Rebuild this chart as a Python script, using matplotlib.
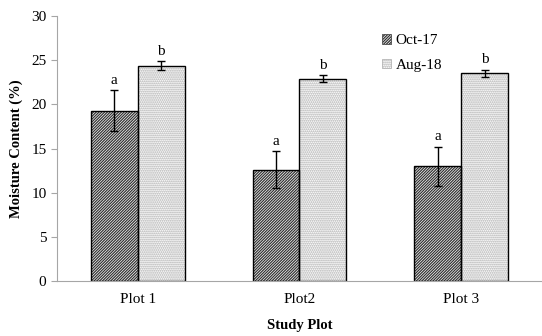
import matplotlib.pyplot as plt
import numpy as np
from matplotlib.patches import Patch

plt.rcParams['font.family'] = ['Liberation Serif', 'DejaVu Serif']
plt.rcParams['hatch.linewidth'] = 0.9

# data
plots = ["Plot 1", "Plot2", "Plot 3"]
oct17 = [19.3, 12.6, 13.0]
oct17_err = [2.3, 2.1, 2.2]
aug18 = [24.4, 22.9, 23.5]
aug18_err = [0.5, 0.4, 0.4]
oct_letters = ["a", "a", "a"]
aug_letters = ["b", "b", "b"]

x = np.arange(len(plots))
w = 0.29
axis_grey = "#a6a6a6"
dark_hatch = "/" * 12
dot_hatch = "." * 8

fig = plt.figure(figsize=(5.42, 3.36), dpi=100)
ax = fig.add_axes([0.105, 0.164, 0.895, 0.788])

# hatched fill first, then a plain black outline on top
ax.bar(x - w / 2, oct17, w, color="white", edgecolor="#333333", hatch=dark_hatch, linewidth=0)
ax.bar(x + w / 2, aug18, w, color="white", edgecolor="#a8a8a8", hatch=dot_hatch, linewidth=0)
ax.bar(x - w / 2, oct17, w, fill=False, edgecolor="black", linewidth=1.0)
ax.bar(x + w / 2, aug18, w, fill=False, edgecolor="black", linewidth=1.0)

ax.errorbar(x - w / 2, oct17, yerr=oct17_err, fmt="none", ecolor="black", elinewidth=1.0, capsize=3, capthick=1.0)
ax.errorbar(x + w / 2, aug18, yerr=aug18_err, fmt="none", ecolor="black", elinewidth=1.0, capsize=3, capthick=1.0)

for i in range(len(plots)):
    ax.text(x[i] - w / 2, oct17[i] + oct17_err[i] + 0.4, oct_letters[i], ha="center", va="bottom", fontsize=11)
    ax.text(x[i] + w / 2, aug18[i] + aug18_err[i] + 0.4, aug_letters[i], ha="center", va="bottom", fontsize=11)

ax.set_xlim(-0.5, 2.5)
ax.set_ylim(0, 30)
ax.set_yticks(range(0, 31, 5))
ax.set_xticks(x)
ax.set_xticklabels(plots, fontsize=11)
ax.tick_params(axis="y", labelsize=11, color=axis_grey, length=4)
ax.tick_params(axis="x", length=0, pad=9)
for s in ["top", "right"]:
    ax.spines[s].set_visible(False)
for s in ["left", "bottom"]:
    ax.spines[s].set_color(axis_grey)

ax.set_ylabel("Moisture Content (%)", fontsize=10.5, fontweight="bold", labelpad=6)
ax.set_xlabel("Study Plot", fontsize=10.5, fontweight="bold", labelpad=9)

handles = [
    Patch(facecolor="white", edgecolor="#333333", hatch=dark_hatch, linewidth=0.5),
    Patch(facecolor="white", edgecolor="#a8a8a8", hatch=dot_hatch, linewidth=0.5),
]
fig.legend(handles, ["Oct-17", "Aug-18"], loc="upper left", bbox_to_anchor=(0.679, 0.94),
           frameon=False, fontsize=11, handlelength=0.6, handleheight=0.6,
           handletextpad=0.3, labelspacing=0.75)

fig.savefig("out.png", dpi=100)
